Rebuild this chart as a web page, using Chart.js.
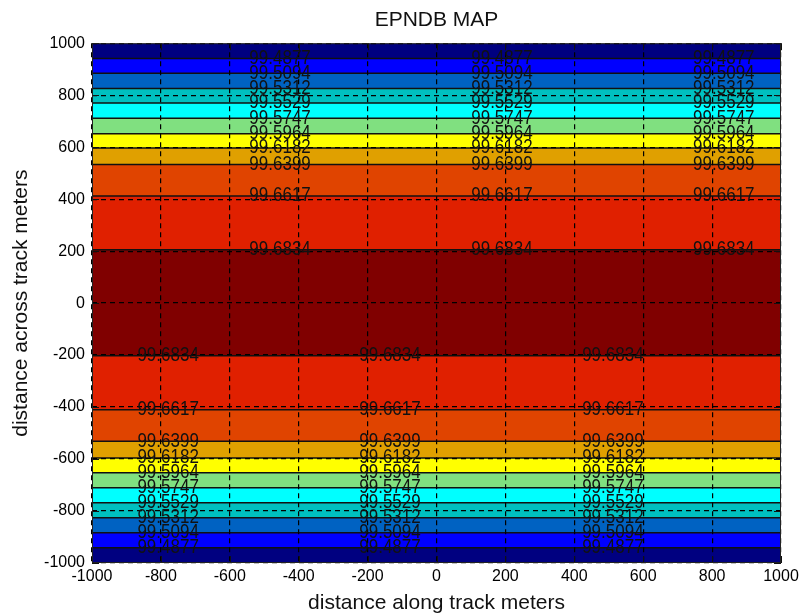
<!DOCTYPE html>
<html>
<head>
<meta charset="utf-8">
<script src="https://cdn.jsdelivr.net/npm/chart.js@4.4.1/dist/chart.umd.min.js"></script>
<style>
  body { margin: 0; background: #fff; }
  #wrap { width: 801px; height: 616px; }
</style>
</head>
<body>
<div id="wrap"><canvas id="epndbChart" width="801" height="616"></canvas></div>
<script>
// contour levels, outermost first
var levels = [99.4877, 99.5094, 99.5312, 99.5529, 99.5747, 99.5964, 99.6182, 99.6399, 99.6617, 99.6834];
// where each level crosses, above and below the track (across-track metres)
var upperContourY = [941, 884, 826, 770, 711, 652, 597, 533, 412, 205];
var lowerContourY = [-941, -884, -826, -768, -710, -653, -596, -532, -410, -203];
// along-track positions of the inline labels
var upperLabelX = [-454, 190, 834];
var lowerLabelX = [-779, -135, 512];
// fill colours, outermost band to centre band
var bandColors = ['#000080', '#0000ff', '#0062c2', '#00c0c0', '#00ffff', '#80e080', '#ffff00', '#e0a000', '#e04400', '#e02000', '#800000'];
var axisTicks = [-1000, -800, -600, -400, -200, 0, 200, 400, 600, 800, 1000];

var xMin = axisTicks[0], xMax = axisTicks[axisTicks.length - 1];

// band edges from bottom to top
var edges = [xMin].concat(lowerContourY, upperContourY.slice().reverse(), [xMax]);
var colorsBottomUp = bandColors.concat(bandColors.slice(0, bandColors.length - 1).reverse());

var datasets = [];

// contour lines drawn on top (first datasets are drawn last)
upperContourY.concat(lowerContourY).forEach(function (y) {
    datasets.push({
        data: [{ x: xMin, y: y }, { x: xMax, y: y }],
        borderColor: '#111',
        borderWidth: 1.5,
        pointRadius: 0,
        fill: false
    });
});

for (var i = 0; i < edges.length - 1; i++) {
    datasets.push({
        data: [{ x: xMin, y: edges[i + 1] }, { x: xMax, y: edges[i + 1] }],
        borderWidth: 0,
        borderColor: 'rgba(0,0,0,0)',
        backgroundColor: colorsBottomUp[i],
        pointRadius: 0,
        fill: { value: edges[i] }
    });
}

var contourLabels = {
    id: 'contourLabels',
    afterDraw: function (chart) {
        var ctx = chart.ctx;
        var xs = chart.scales.x, ys = chart.scales.y;
        var area = chart.chartArea;
        ctx.save();
        ctx.beginPath();
        ctx.rect(area.left, area.top, area.right - area.left, area.bottom - area.top);
        ctx.clip();
        ctx.fillStyle = '#111';
        ctx.font = '17px "Liberation Sans", Arial, sans-serif';
        ctx.textAlign = 'center';
        ctx.textBaseline = 'middle';
        function put(xList, yList) {
            yList.forEach(function (y, k) {
                xList.forEach(function (x) {
                    ctx.save();
                    ctx.translate(xs.getPixelForValue(x), ys.getPixelForValue(y));
                    ctx.scale(1, 1.15);
                    ctx.fillText(levels[k].toFixed(4), 0, 0);
                    ctx.restore();
                });
            });
        }
        put(upperLabelX, upperContourY);
        put(lowerLabelX, lowerContourY);
        ctx.restore();

        // inside tick marks and box
        ctx.save();
        ctx.strokeStyle = '#111';
        ctx.lineWidth = 1;
        ctx.beginPath();
        axisTicks.forEach(function (t) {
            var px = Math.round(xs.getPixelForValue(t)) + 0.5;
            var py = Math.round(ys.getPixelForValue(t)) + 0.5;
            ctx.moveTo(px, area.bottom); ctx.lineTo(px, area.bottom - 7);
            ctx.moveTo(px, area.top); ctx.lineTo(px, area.top + 7);
            ctx.moveTo(area.left, py); ctx.lineTo(area.left + 7, py);
            ctx.moveTo(area.right, py); ctx.lineTo(area.right - 7, py);
        });
        ctx.stroke();
        ctx.strokeStyle = '#222';
        ctx.strokeRect(area.left + 0.5, area.top + 0.5, area.right - area.left - 1, area.bottom - area.top - 1);
        ctx.restore();
    }
};

var tickFont = { family: '"Liberation Sans", Arial, sans-serif', size: 16 };
var titleFont = { family: '"Liberation Sans", Arial, sans-serif', size: 21, weight: 'normal' };

function plainTick(v) { return String(v); }

var ctx = document.getElementById('epndbChart').getContext('2d');
var epndbChart = new Chart(ctx, {
    type: 'line',
    data: { datasets: datasets },
    plugins: [contourLabels],
    options: {
        responsive: false,
        animation: false,
        layout: { padding: { left: 0, right: 20, top: 0, bottom: 0 } },
        plugins: {
            legend: { display: false },
            tooltip: { enabled: false },
            title: {
                display: true,
                fullSize: false,
                text: 'EPNDB MAP',
                color: '#111',
                font: titleFont,
                padding: { top: 8, bottom: 10 }
            },
            filler: { propagate: false }
        },
        scales: {
            x: {
                type: 'linear',
                min: xMin,
                max: xMax,
                afterBuildTicks: function (scale) {
                    scale.ticks = axisTicks.map(function (v) { return { value: v }; });
                },
                afterFit: function (scale) {
                    scale.height = 53;
                    scale.paddingLeft = 0;
                    scale.paddingRight = 18;
                },
                ticks: { color: '#000', font: tickFont, padding: 4, maxRotation: 0, autoSkip: false, callback: plainTick },
                grid: { color: '#000', lineWidth: 1.2, drawTicks: false, z: 1 },
                border: { display: false, dash: [5, 4] },
                title: {
                    display: true,
                    text: 'distance along track meters',
                    color: '#111',
                    font: titleFont,
                    padding: { top: 0, bottom: 0 }
                }
            },
            y: {
                type: 'linear',
                min: xMin,
                max: xMax,
                afterBuildTicks: function (scale) {
                    scale.ticks = axisTicks.map(function (v) { return { value: v }; });
                },
                afterFit: function (scale) { scale.width = 92; },
                ticks: { color: '#000', font: tickFont, padding: 7, autoSkip: false, callback: plainTick },
                grid: { color: '#000', lineWidth: 1.2, drawTicks: false, z: 1 },
                border: { display: false, dash: [5, 4] },
                title: {
                    display: true,
                    text: 'distance across track meters',
                    color: '#111',
                    font: titleFont,
                    padding: { top: 9, bottom: 0 }
                }
            }
        }
    }
});
</script>
</body>
</html>
